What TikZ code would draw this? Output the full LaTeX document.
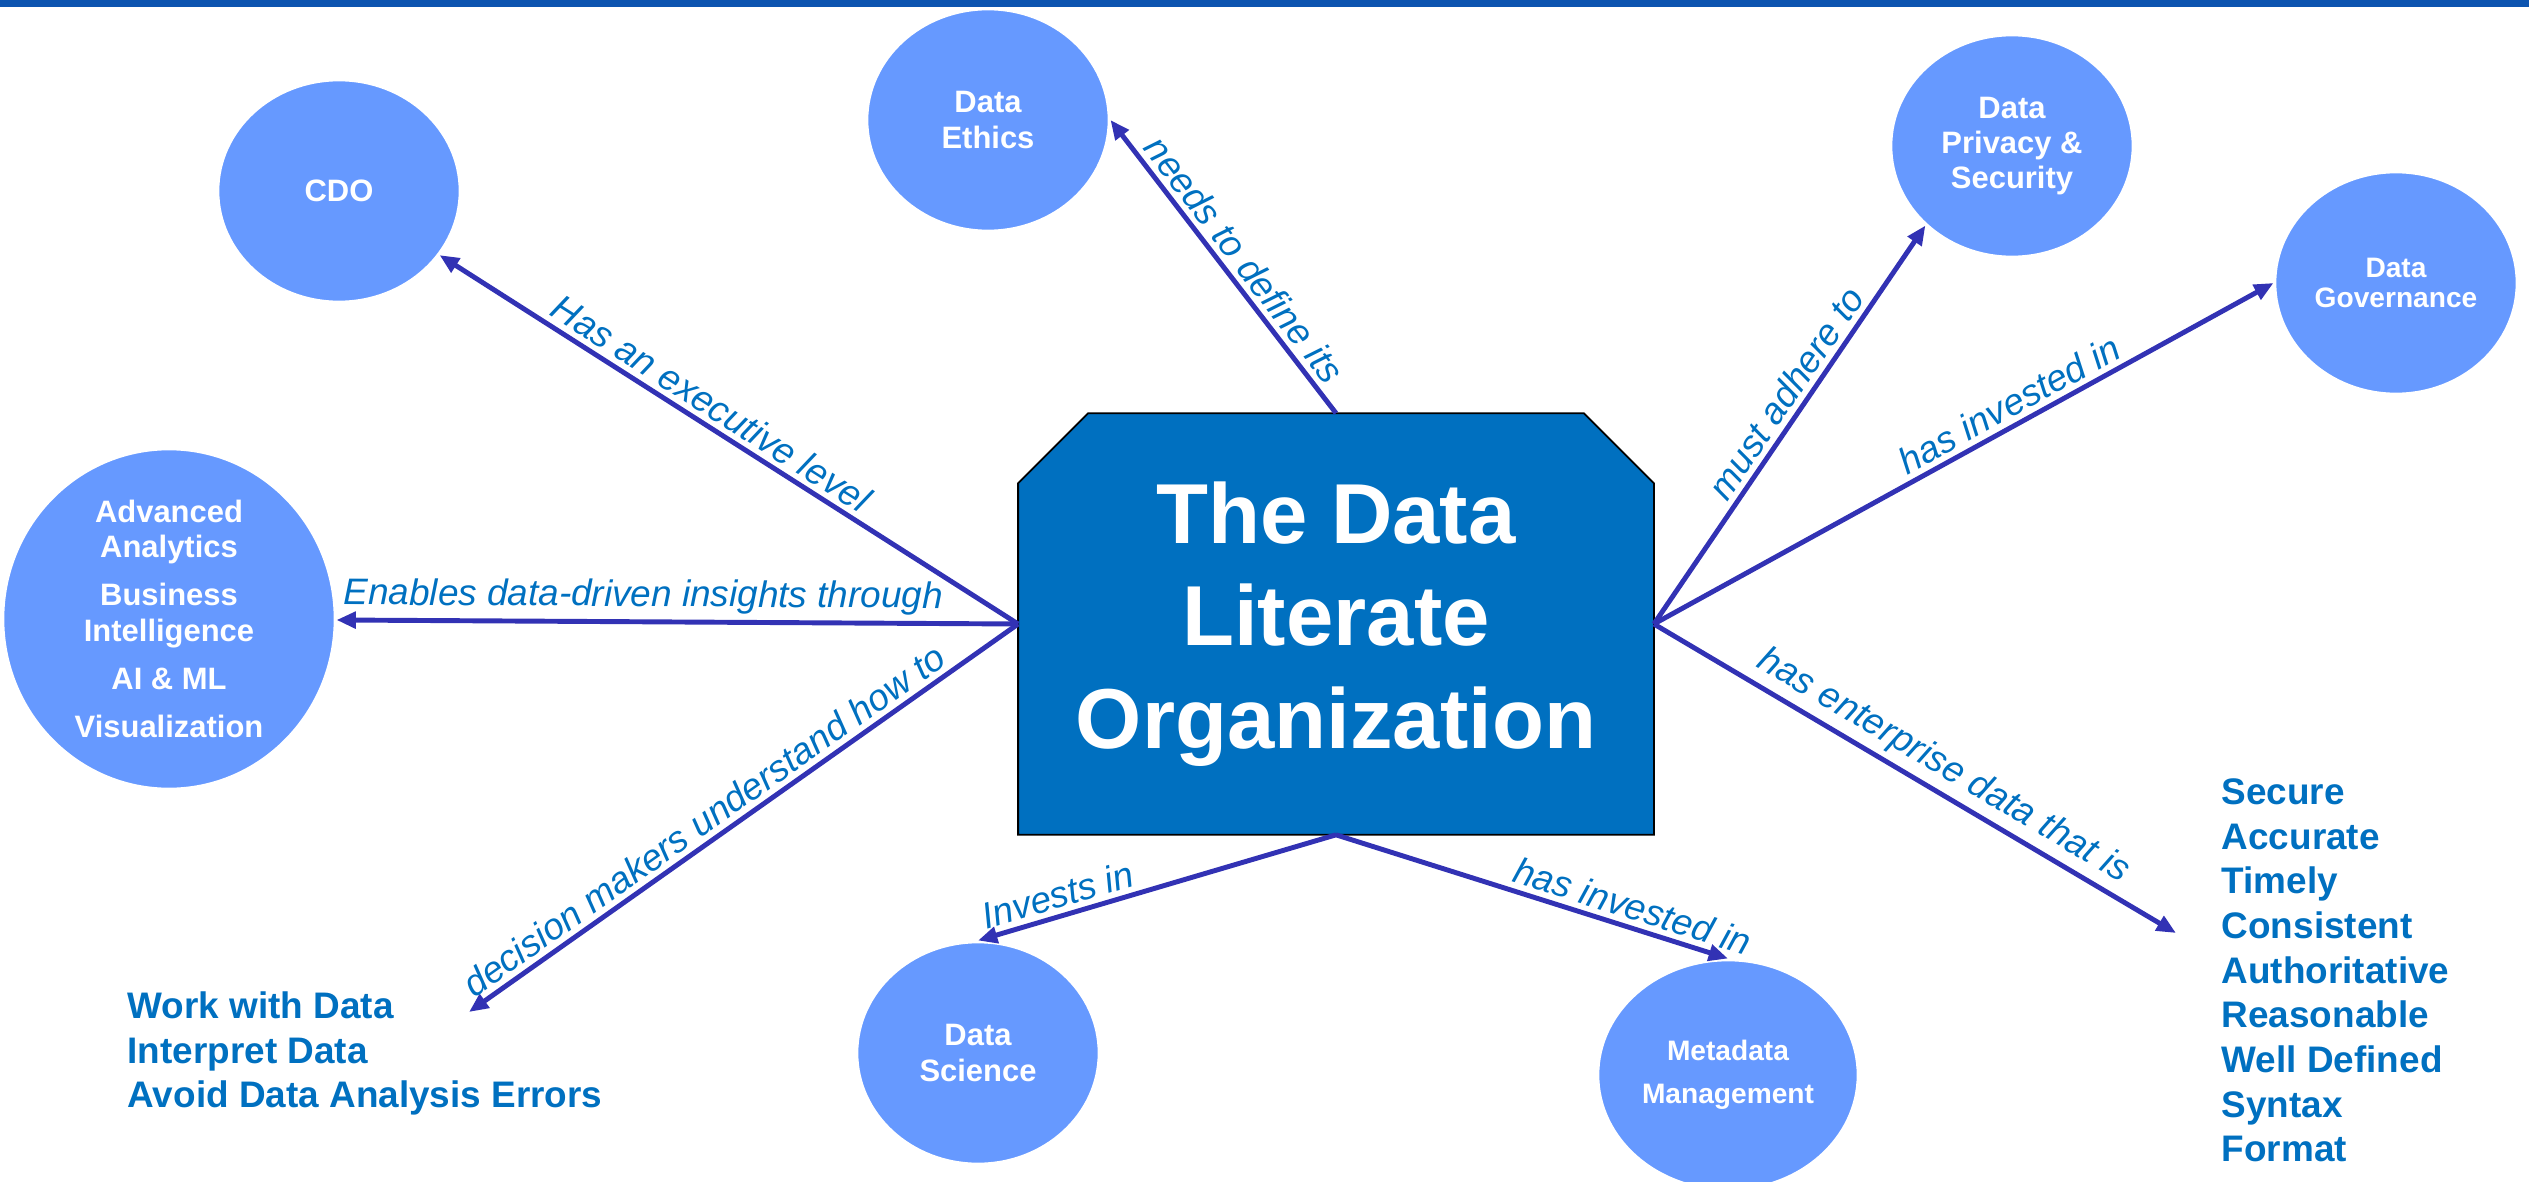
\documentclass[tikz,border=0pt]{standalone}
\usepackage{fontspec}
\setmainfont{Liberation Sans}
\usetikzlibrary{arrows.meta,shapes.geometric,backgrounds}
\definecolor{barblue}{RGB}{12,84,176}
\definecolor{orgblue}{RGB}{0,112,192}
\definecolor{topicblue}{RGB}{102,153,255}
\definecolor{linkblue}{RGB}{50,50,180}
\definecolor{textblue}{RGB}{0,112,192}
\tikzset{
	topic/.style={ellipse, fill=topicblue, draw=white, line width=0.8pt, text=white, inner sep=0pt, align=center, minimum width=2.42cm, minimum height=2.22cm, font=\bfseries\fontsize{8.8}{10}\selectfont},
	link/.style={draw=linkblue, line width=1.4pt, -{Triangle[length=5.5pt,width=4.6pt]}},
	linktext/.style={sloped, above, pos=#1, text=textblue, inner sep=1.5pt, font=\itshape\fontsize{10.5}{12}\selectfont},
	traits/.style={anchor=north west, inner sep=0pt, align=left, text=textblue, font=\bfseries\fontsize{10.5}{12.7}\selectfont}
}

\begin{document}
\begin{tikzpicture}[x=0.01cm, y=-0.01cm]
	%%%%% START %%%%%
	\useasboundingbox (0,0) rectangle (2529,1182);
	
	\fill[barblue] (0,0) rectangle (2529,7);
	
	% centre block, the two top corners cut off
	\node[minimum width=6.34cm, minimum height=4.2cm, inner sep=0pt, align=center, text=white, font=\bfseries\fontsize{24.2}{29.2}\selectfont] (org) at (1336,624) {The Data\\Literate\\Organization};
	\begin{scope}[on background layer]
		\draw[fill=orgblue, line width=0.5pt] (org.south west) -- ([yshift=-0.7cm]org.north west) -- ([xshift=0.7cm]org.north west) -- ([xshift=-0.7cm]org.north east) -- ([yshift=-0.7cm]org.north east) -- (org.south east) -- cycle;
	\end{scope}
	
	% the topics round it
	\node[topic] (cdo) at (339,191) {CDO};
	\node[topic] (ethics) at (988,120) {Data\\Ethics};
	\node[topic] (privacy) at (2012,146) {Data\\Privacy \&\\Security};
	\node[topic, font=\bfseries\fontsize{8}{8.5}\selectfont] (gov) at (2396,283) {Data\\Governance};
	\node[topic, minimum width=3.32cm, minimum height=3.4cm] (analytics) at (169,619) {Advanced\\Analytics\\[0.13cm]Business\\Intelligence\\[0.13cm]AI \& ML\\[0.13cm]Visualization};
	\node[topic] (science) at (978,1053) {Data\\Science};
	\node[topic, minimum width=2.6cm, minimum height=2.3cm, font=\bfseries\fontsize{8}{12.2}\selectfont] (meta) at (1728,1075) {Metadata\\Management};
	
	\node[traits] (skills) at (127,991) {Work with Data\\Interpret Data\\Avoid Data Analysis Errors};
	\node[traits] (quality) at (2221,778) {Secure\\Accurate\\Timely\\Consistent\\Authoritative\\Reasonable\\Well Defined\\Syntax\\Format};
	\coordinate (skills end) at (469,1012);
	\coordinate (quality end) at (2176,933);
	
	% links out of the block
	\draw[link] (org.west) -- (cdo) node[linktext=0.55] {Has an executive level};
	\draw[link] (org.west) -- (analytics) node[linktext=0.55] {Enables data-driven insights through};
	\draw[link] (org.west) -- (skills end) node[linktext=0.55] {decision makers understand how to};
	\draw[link] (org.north) -- (ethics.east) node[linktext=0.48] {needs to define its};
	\draw[link] (org.east) -- (privacy.south west) node[linktext=0.55] {must adhere to};
	\draw[link] (org.east) -- (gov.west) node[linktext=0.59] {has invested in};
	\draw[link] (org.east) -- (quality end) node[linktext=0.53] {has enterprise data that is};
	\draw[link] (org.south) -- (science.north) node[linktext=0.76] {Invests in};
	\draw[link] (org.south) -- (meta.north) node[linktext=0.74] {has invested in};
	
	%%%%% END %%%%%
\end{tikzpicture}
\end{document}
